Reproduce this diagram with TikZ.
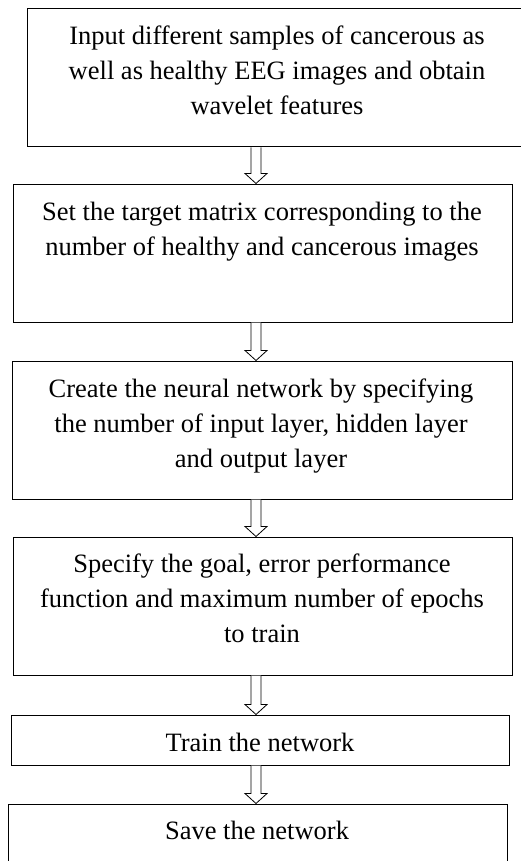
\documentclass[tikz,border=0pt]{standalone}
\usepackage{fontspec}
\setmainfont{Liberation Serif}
\usetikzlibrary{calc}
\tikzset{
  box/.style={draw, line width=1pt, inner sep=0pt, rectangle},
  txt/.style={align=center, inner sep=0pt, anchor=base,
    font=\fontsize{26.5}{35}\selectfont},
  harr/.style={draw, line width=0.8pt, fill=white, line join=miter},
}
\newcommand\harrow[2]{%
  \path let \p1=(ax |- #1.south), \p2=(ax |- #2.north) in
    [harr] (\x1-5pt,\y1) -- (\x1-5pt,\y2+10pt) -- (\x1-11pt,\y2+10pt)
    -- (\x1,\y2) -- (\x1+11pt,\y2+10pt) -- (\x1+5pt,\y2+10pt)
    -- (\x1+5pt,\y1);%
}
\begin{document}
\begin{tikzpicture}[x=1pt,y=-1pt]
\useasboundingbox (0,0) rectangle (520,861);
\coordinate (ax) at (256,0);
% boxes
\node[box, minimum width=510pt, minimum height=138pt] (b1) at (282,78) {};
\node[box, minimum width=499pt, minimum height=138pt] (b2) at (262.5,253) {};
\node[box, minimum width=500pt, minimum height=138pt] (b3) at (262,430) {};
\node[box, minimum width=499pt, minimum height=138pt] (b4) at (262.5,606) {};
\node[box, minimum width=498pt, minimum height=50pt] (b5) at (260,740) {};
\node[box, minimum width=499pt, minimum height=80pt] (b6) at (257.5,844) {};
% texts (anchor base = last line)
\node[txt] (t1) at (277,115) {Input different samples of cancerous as\\well as healthy EEG images and obtain\\wavelet features};
\node[txt] (t2) at (262,255) {Set the target matrix corresponding to the\\number of healthy and cancerous images};
\node[txt] (t3) at (261,467) {Create the neural network by specifying\\the number of input layer, hidden layer\\and output layer};
\node[txt] (t4) at (262,642) {Specify the goal, error performance\\function and maximum number of epochs\\to train};
\node[txt] (t5) at (260,751) {Train the network};
\node[txt] (t6) at (257,839) {Save the network};
% arrows
\harrow{b1}{b2}
\harrow{b2}{b3}
\harrow{b3}{b4}
\harrow{b4}{b5}
\harrow{b5}{b6}
\end{tikzpicture}
\end{document}
